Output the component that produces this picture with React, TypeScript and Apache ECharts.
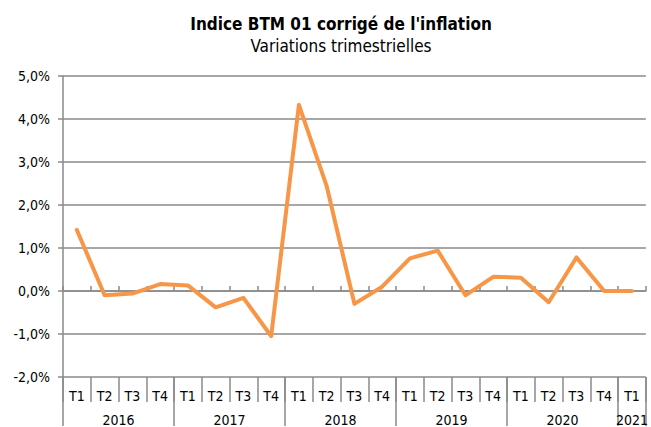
import React, { useEffect, useRef } from "react";
import * as echarts from "echarts";

const quarters = ["T1","T2","T3","T4","T1","T2","T3","T4","T1","T2","T3","T4","T1","T2","T3","T4","T1","T2","T3","T4","T1"];
const years = ["2016","2017","2018","2019","2020","2021"];
const yearCenters = [2, 6, 10, 14, 18, 20.5];
const yearBounds = [0, 4, 8, 12, 16, 20, 21];
const values = [1.42,-0.1,-0.06,0.16,0.13,-0.38,-0.16,-1.05,4.33,2.44,-0.3,0.1,0.76,0.94,-0.1,0.33,0.31,-0.26,0.78,0.0,0.0];

const FONT = "'DejaVu Sans Condensed', 'DejaVu Sans', sans-serif";
const GRAY = "#8a8a8a";
const LW = 1.5;

export default function App() {
  const ref = useRef<HTMLDivElement>(null);
  useEffect(() => {
    const chart = echarts.init(ref.current!, null, { renderer: "svg" });
    chart.setOption({
      animation: false,
      backgroundColor: "#ffffff",
      title: {
        text: "Indice BTM 01 corrigé de l'inflation",
        subtext: "Variations trimestrielles",
        left: 336,
        textAlign: "center",
        top: 10,
        itemGap: 5,
        textStyle: { fontFamily: FONT, fontSize: 17, fontWeight: "bold", color: "#000" },
        subtextStyle: { fontFamily: FONT, fontSize: 17, color: "#000" },
      },
      grid: { left: 63, right: 0, top: 76, bottom: 49, containLabel: false },
      xAxis: [
        {
          type: "category",
          data: quarters,
          boundaryGap: true,
          axisLine: { show: true, onZero: true, lineStyle: { color: GRAY, width: LW } },
          axisTick: { show: true, inside: true, length: 5, interval: 0, lineStyle: { color: GRAY, width: LW } },
          axisLabel: { show: false },
          splitLine: { show: false },
        },
        {
          type: "category",
          data: quarters,
          position: "bottom",
          boundaryGap: true,
          axisLine: { show: false, onZero: false },
          axisTick: { show: true, length: 25, interval: 0, lineStyle: { color: GRAY, width: LW } },
          axisLabel: { show: true, interval: 0, margin: 12, fontFamily: FONT, fontSize: 14, color: "#000" },
          splitLine: { show: false },
        },
        {
          type: "value",
          min: 0,
          max: 21,
          position: "bottom",
          axisLine: { show: false, onZero: false },
          axisTick: { show: true, length: 49, customValues: yearBounds, lineStyle: { color: GRAY, width: LW } },
          axisLabel: {
            show: true,
            customValues: yearCenters,
            margin: 36,
            fontFamily: FONT,
            fontSize: 14,
            color: "#000",
            formatter: (v: number) => {
              const i = yearCenters.indexOf(v);
              return i >= 0 ? years[i] : "";
            },
          },
          splitLine: { show: false },
        },
      ],
      yAxis: {
        type: "value",
        min: -2,
        max: 5,
        interval: 1,
        axisLine: { show: true, lineStyle: { color: GRAY, width: LW } },
        axisTick: { show: true, length: 5, lineStyle: { color: GRAY, width: LW } },
        axisLabel: {
          margin: 13,
          fontFamily: FONT,
          fontSize: 14,
          color: "#000",
          formatter: (v: number) => v.toFixed(1).replace(".", ",") + "%",
        },
        splitLine: { show: true, lineStyle: { color: GRAY, width: LW } },
      },
      series: [
        {
          type: "line",
          xAxisIndex: 0,
          data: values,
          showSymbol: false,
          symbol: "none",
          lineStyle: { color: "#F79646", width: 4, join: "round", cap: "round" },
        },
      ],
    });
    return () => chart.dispose();
  }, []);
  return <div ref={ref} style={{ position: "fixed", left: 0, top: 0, width: 651, height: 427 }} />;
}
